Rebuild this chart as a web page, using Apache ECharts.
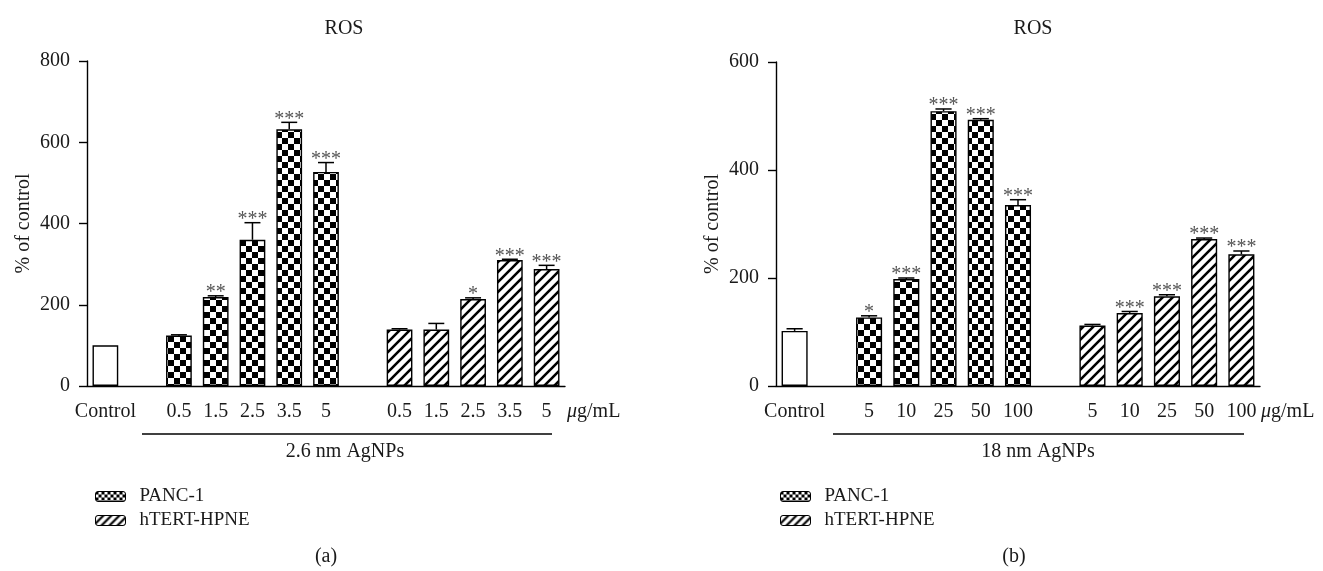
<!DOCTYPE html>
<html><head><meta charset="utf-8">
<script src="https://cdn.jsdelivr.net/npm/echarts@6/dist/echarts.min.js"></script>
<style>html,body{margin:0;padding:0;background:#fff}#c{width:1323px;height:571px}</style>
</head><body><div id="c"></div>
<script>
// ---------- data ----------
const catsA = ['Control', '', '0.5', '1.5', '2.5', '3.5', '5', '', '0.5', '1.5', '2.5', '3.5', '5'];
const catsB = ['Control', '', '5', '10', '25', '50', '100', '', '5', '10', '25', '50', '100'];
const yTicksA = [0, 200, 400, 600, 800];
const yTicksB = [0, 200, 400, 600];

const ctrlA = 100, ctrlASd = 0;
const pancA = [124, 219, 360, 632, 527];
const pancASd = [2, 3, 42, 17, 23];
const htertA = [139, 139, 214, 310, 288];
const htertASd = [2, 15, 3, 2, 9];
const starsPancA = ['', '**', '***', '***', '***'];
const starsHtertA = ['', '', '*', '***', '***'];

const ctrlB = 102, ctrlBSd = 4;
const pancB = [127, 198, 509, 493, 335];
const pancBSd = [3, 2, 4, 2, 10];
const htertB = [112, 135, 166, 272, 244];
const htertBSd = [2, 3, 3, 2, 6];
const starsPancB = ['*', '***', '***', '***', '***'];
const starsHtertB = ['', '***', '***', '***', '***'];

// ---------- patterns ----------
function checker(s) {
  const c = document.createElement('canvas'); c.width = c.height = 2 * s;
  const g = c.getContext('2d');
  g.fillStyle = '#fff'; g.fillRect(0, 0, 2 * s, 2 * s);
  g.fillStyle = '#000'; g.fillRect(0, 0, s, s); g.fillRect(s, s, s, s);
  return c;
}
function hatch(p, w) {
  const c = document.createElement('canvas'); c.width = c.height = p;
  const g = c.getContext('2d');
  g.fillStyle = '#fff'; g.fillRect(0, 0, p, p);
  g.strokeStyle = '#000'; g.lineWidth = w;
  g.beginPath();
  g.moveTo(-1, p + 1); g.lineTo(p + 1, -1);
  g.moveTo(-3, 3); g.lineTo(3, -3);
  g.moveTo(p - 3, p + 3); g.lineTo(p + 3, p - 3);
  g.stroke();
  return c;
}
const CHECK = { image: checker(6), repeat: 'repeat' };
const HATCH = { image: hatch(10, 2.6), repeat: 'repeat' };
const CHECK_S = { image: checker(3), repeat: 'repeat' };
const HATCH_S = { image: hatch(8, 2.2), repeat: 'repeat' };

const FONT = 'Liberation Serif';
const TXT = '#1a1a1a';
const FS = 20;

function full(ctrl, panc, htert) {
  const c = new Array(13).fill(null), p = new Array(13).fill(null), h = new Array(13).fill(null);
  c[0] = ctrl;
  panc.forEach((v, i) => p[2 + i] = v);
  htert.forEach((v, i) => h[8 + i] = v);
  return [c, p, h];
}
function errData(ctrl, ctrlSd, panc, pancSd, htert, htertSd, sP, sH) {
  const d = [[0, ctrl, ctrlSd, '']];
  panc.forEach((v, i) => d.push([2 + i, v, pancSd[i], sP[i]]));
  htert.forEach((v, i) => d.push([8 + i, v, htertSd[i], sH[i]]));
  return d;
}

function errSeries(idx, data) {
  return {
    type: 'custom', xAxisIndex: idx, yAxisIndex: idx, z: 5, clip: false,
    data: data.map(d => [d[0], d[1], d[2]]),
    renderItem: function (params, api) {
      const d = data[params.dataIndex];
      const v = d[1], sd = d[2], st = d[3];
      const base = api.coord([d[0], v]);
      const top = api.coord([d[0], v + sd]);
      const bw = api.size([1, 0])[0] * 0.7;
      const cap = bw * 0.62;
      const ch = [];
      if (sd > 0) {
        ch.push({ type: 'line', shape: { x1: base[0], y1: base[1], x2: top[0], y2: top[1] }, style: { stroke: '#000', lineWidth: 1.5 } });
        ch.push({ type: 'line', shape: { x1: top[0] - cap / 2, y1: top[1], x2: top[0] + cap / 2, y2: top[1] }, style: { stroke: '#000', lineWidth: 1.5 } });
      }
      if (st) {
        ch.push({ type: 'text', style: { text: st, x: top[0], y: top[1] - 3, align: 'center', verticalAlign: 'middle', font: '20px "' + FONT + '"', fill: '#555' } });
      }
      return { type: 'group', children: ch };
    }
  };
}

const [cA, pA, hA] = full(ctrlA, pancA, htertA);
const [cB, pB, hB] = full(ctrlB, pancB, htertB);

function barS(name, idx, data, color) {
  return {
    name: name, type: 'bar', xAxisIndex: idx, yAxisIndex: idx, data: data,
    barWidth: '70%', barGap: '-100%',
    itemStyle: { color: color, borderColor: '#000', borderWidth: 1.4 },
    emphasis: { disabled: true }
  };
}

function xAx(idx, cats) {
  return {
    type: 'category', gridIndex: idx, data: cats,
    axisLine: { lineStyle: { color: '#000', width: 1.4 } },
    axisTick: { alignWithLabel: true, interval: 0, length: 8, lineStyle: { color: '#000', width: 1.4 } },
    axisLabel: { interval: 0, color: TXT, fontFamily: FONT, fontSize: FS, margin: 16 }
  };
}
function yAx(idx, max) {
  return {
    type: 'value', gridIndex: idx, min: 0, max: max, interval: 200,
    name: '% of control', nameLocation: 'middle', nameGap: 53,
    nameTextStyle: { color: TXT, fontFamily: FONT, fontSize: FS },
    axisLine: { show: true, lineStyle: { color: '#000', width: 1.4 } },
    axisTick: { show: true, length: 8, lineStyle: { color: '#000', width: 1.4 } },
    axisLabel: { color: TXT, fontFamily: FONT, fontSize: FS, margin: 17 },
    splitLine: { show: false }
  };
}

const legendText = { color: TXT, fontFamily: FONT, fontSize: 19, padding: [0, 0, 0, 9] };
function legend(left) {
  return {
    data: [
      { name: 'PANC-1', itemStyle: { color: CHECK_S, borderColor: '#000', borderWidth: 1 } },
      { name: 'hTERT-HPNE', itemStyle: { color: HATCH_S, borderColor: '#000', borderWidth: 1 } }
    ],
    orient: 'vertical', left: left, top: 482, itemWidth: 30, itemHeight: 10, itemGap: 5,
    textStyle: legendText, selectedMode: false
  };
}
const unit = { text: '{i|μ}g/mL', font: FS + 'px "' + FONT + '"', fill: TXT, verticalAlign: 'middle',
  rich: { i: { fontStyle: 'italic', fontFamily: FONT, fontSize: FS, color: TXT } } };

const chart = echarts.init(document.getElementById('c'), null, { renderer: 'canvas' });
chart.setOption({
  animation: false,
  backgroundColor: '#fff',
  title: [
    { text: 'ROS', left: 339, top: 14, textAlign: 'center', textStyle: { color: TXT, fontFamily: FONT, fontSize: 20, fontWeight: 'normal' } },
    { text: 'ROS', left: 1028, top: 14, textAlign: 'center', textStyle: { color: TXT, fontFamily: FONT, fontSize: 20, fontWeight: 'normal' } }
  ],
  grid: [
    { left: 87, top: 61, width: 478, height: 325 },
    { left: 776, top: 62, width: 484, height: 324 }
  ],
  legend: [legend(90), legend(775)],
  xAxis: [xAx(0, catsA), xAx(1, catsB)],
  yAxis: [yAx(0, yTicksA[yTicksA.length - 1]), yAx(1, yTicksB[yTicksB.length - 1])],
  series: [
    barS('Control', 0, cA, '#fff'),
    barS('PANC-1', 0, pA, CHECK),
    barS('hTERT-HPNE', 0, hA, HATCH),
    errSeries(0, errData(ctrlA, ctrlASd, pancA, pancASd, htertA, htertASd, starsPancA, starsHtertA)),
    barS('Control', 1, cB, '#fff'),
    barS('PANC-1', 1, pB, CHECK),
    barS('hTERT-HPNE', 1, hB, HATCH),
    errSeries(1, errData(ctrlB, ctrlBSd, pancB, pancBSd, htertB, htertBSd, starsPancB, starsHtertB))
  ],
  graphic: [
    { type: 'text', x: 567, y: 412, style: Object.assign({}, unit) },
    { type: 'line', shape: { x1: 142, y1: 434, x2: 552, y2: 434 }, style: { stroke: '#000', lineWidth: 1.4 } },
    { type: 'text', x: 345, y: 452, style: { text: '2.6 nm AgNPs', align: 'center', verticalAlign: 'middle', font: FS + 'px "' + FONT + '"', fill: TXT } },
    { type: 'text', x: 326, y: 557, style: { text: '(a)', align: 'center', verticalAlign: 'middle', font: '20px "' + FONT + '"', fill: TXT } },
    { type: 'text', x: 1261, y: 412, style: Object.assign({}, unit) },
    { type: 'line', shape: { x1: 833, y1: 434, x2: 1244, y2: 434 }, style: { stroke: '#000', lineWidth: 1.4 } },
    { type: 'text', x: 1038, y: 452, style: { text: '18 nm AgNPs', align: 'center', verticalAlign: 'middle', font: FS + 'px "' + FONT + '"', fill: TXT } },
    { type: 'text', x: 1014, y: 557, style: { text: '(b)', align: 'center', verticalAlign: 'middle', font: '20px "' + FONT + '"', fill: TXT } }
  ]
});
</script>
</body></html>
